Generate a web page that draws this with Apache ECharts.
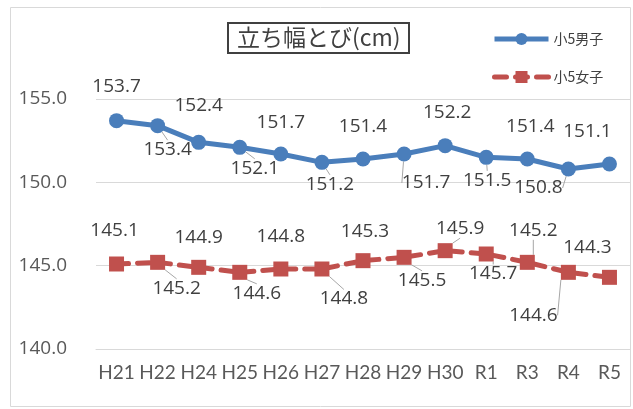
<!DOCTYPE html>
<html><head><meta charset="utf-8">
<script src="https://cdn.jsdelivr.net/npm/echarts@6/dist/echarts.min.js"></script>
<style>html,body{margin:0;padding:0;background:#fff}#c{width:633px;height:409px}</style>
</head><body><div id="c"></div>
<script>
const categories = ['H21','H22','H24','H25','H26','H27','H28','H29','H30','R1','R3','R4','R5'];
const boys = [153.7,153.4,152.4,152.1,151.7,151.2,151.4,151.7,152.2,151.5,151.4,150.8,151.1];
const girls = [145.1,145.2,144.9,144.6,144.8,144.8,145.3,145.5,145.9,145.7,145.2,144.6,144.3];
const yTicks = [140,145,150,155];
const boysName = '小5男子', girlsName = '小5女子';
const titleText = '立ち幅とび(cm)';

// label offsets (dx, dy) from each point, as placed in the reference
const boysOff = [[0,-34],[10,24],[0,-37],[15,21],[0,-31],[8,22],[0,-32],[22,29],[2,-33],[1,23],[3,-32],[-30,19],[-22,-32]];
const girlsOff = [[-2,-33],[19,26],[0,-30],[17,21],[0,-32],[22,30],[2,-29],[18,23],[15,-22],[7,20],[6,-32],[-35,43],[-22,-30]];
const boysLead = [false,true,false,true,false,true,false,true,false,true,false,true,false];
const girlsLead = [false,true,false,true,false,true,false,true,true,true,true,true,false];

const chart = echarts.init(document.getElementById('c'));
const valFont = {fontFamily:'Open Sans', fontSize:19, color:'#404040'};
function mk(vals, offs, leads){
  return vals.map((v,i)=>({value:v, labelLine:{show:leads[i]}}));
}
function layoutFn(offs){
  return function(p){ const o = offs[p.dataIndex]; return {dx:o[0], dy:o[1]}; };
}
chart.setOption({
  animation:false,
  graphic:[{type:'rect', shape:{x:10.5,y:7.5,width:620,height:399}, style:{fill:'none', stroke:'#d9d9d9', lineWidth:1}, z:-10}],
  title:{text:titleText, left:228, top:23, padding:[3,9,4,9], borderColor:'#404040', borderWidth:2,
    textStyle:{fontFamily:'Noto Sans CJK JP', fontSize:23, fontWeight:'normal', color:'#404040'}},
  legend:{orient:'vertical', left:487, top:27, itemWidth:54, itemHeight:15, itemGap:24,
    lineStyle:{width:5}, itemStyle:{borderWidth:0},
    textStyle:{fontFamily:'Noto Sans CJK JP', fontSize:14, color:'#404040'}, data:[boysName, girlsName]},
  grid:{left:96, right:3, top:99, bottom:60, containLabel:false},
  xAxis:{type:'category', data:categories, boundaryGap:true,
    axisLine:{lineStyle:{color:'#d9d9d9'}}, axisTick:{show:false},
    axisLabel:{fontFamily:'Lato', fontSize:19, color:'#595959', margin:14, interval:0}},
  yAxis:{type:'value', min:yTicks[0], max:yTicks[yTicks.length-1], interval:5,
    axisLine:{show:false}, axisTick:{show:false}, splitLine:{lineStyle:{color:'#d9d9d9'}},
    axisLabel:{fontFamily:'Open Sans', fontSize:19, color:'#595959', margin:29, formatter:v=>v.toFixed(1)}},
  series:[
    {name:boysName, type:'line', data:mk(boys,boysOff,boysLead), symbol:'circle', symbolSize:15,
      itemStyle:{color:'#4a7ebb'}, lineStyle:{color:'#4a7ebb', width:5},
      label:{show:true, position:'inside', ...valFont, formatter:p=>p.value.toFixed(1)},
      labelLayout:layoutFn(boysOff), labelLine:{show:false, lineStyle:{color:'#a6a6a6', width:1}}},
    {name:girlsName, type:'line', data:mk(girls,girlsOff,girlsLead), symbol:'rect', symbolSize:15,
      itemStyle:{color:'#c0504d'}, lineStyle:{color:'#c0504d', width:5, type:[12,9], cap:'round'},
      label:{show:true, position:'inside', ...valFont, formatter:p=>p.value.toFixed(1)},
      labelLayout:layoutFn(girlsOff), labelLine:{show:false, lineStyle:{color:'#a6a6a6', width:1}}}
  ]
});
</script></body></html>
